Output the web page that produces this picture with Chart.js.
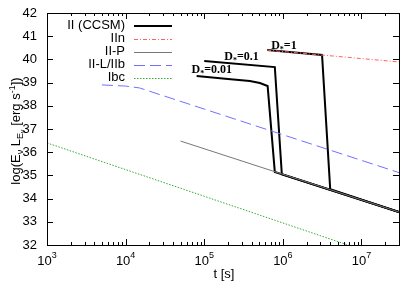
<!DOCTYPE html>
<html>
<head>
<meta charset="utf-8">
<script src="https://cdn.jsdelivr.net/npm/chart.js@4/dist/chart.umd.min.js"></script>
<style>
  body { margin: 0; background: #fff; }
  #wrap { width: 407px; height: 285px; position: relative; }
</style>
</head>
<body>
<div id="wrap"><canvas id="myChart"></canvas></div>
<script>
// values: [t in s, log L]
var ccsm001 = [[8e4, 39.28], [2e5, 39.15], [3.8e5, 39.07], [5.1e5, 38.98], [6.4e5, 38.85], [7.9e5, 35.15], [3e7, 33.42]];
var ccsm01 = [[1e5, 39.93], [7.9e5, 39.67], [9.7e5, 35.05], [3e7, 33.42]];
var ccsm1 = [[6.3e5, 40.4], [3.15e6, 40.19], [4e6, 34.41], [3e7, 33.42]];
var iin = [[6.3e5, 40.4], [3e7, 39.89]];
var iip = [[5e4, 36.48], [3e7, 33.42]];
var iilb = [[5e3, 38.9], [1e4, 38.85], [1.5e4, 38.77], [3e7, 35.12]];
var ibc = [[1e3, 36.4], [1e7, 31.8]];

var xTicks = [1e3, 1e4, 1e5, 1e6, 1e7];
var yTicks = [32, 33, 34, 35, 36, 37, 38, 39, 40, 41, 42];
var dLabels = [['1', 7.1e5, 40.45], ['0.1', 1.8e5, 39.97], ['0.01', 6.9e4, 39.41]];

var legendItems = [
    { label: 'II (CCSM)', color: '#000', width: 2, dash: [] },
    { label: 'IIn', color: '#ff6060', width: 1, dash: [4, 2, 1, 2] },
    { label: 'II-P', color: '#777', width: 1, dash: [] },
    { label: 'II-L/IIb', color: '#7070ff', width: 1, dash: [11, 5] },
    { label: 'Ibc', color: '#33aa33', width: 1, dash: [1.5, 1.5] }
];

function pts(arr) {
    return arr.map(function (p) { return { x: p[0], y: p[1] }; });
}

function ds(arr, color, width, dash) {
    return {
        data: pts(arr),
        borderColor: color,
        borderWidth: width,
        borderDash: dash,
        showLine: true,
        pointRadius: 0,
        tension: 0,
        fill: false
    };
}

var sans = '"Liberation Sans", Arial, sans-serif';

var decorPlugin = {
    id: 'decor',
    afterDraw: function (chart) {
        var ctx = chart.ctx;
        var a = chart.chartArea;
        var xs = chart.scales.x, ys = chart.scales.y;
        ctx.save();
        ctx.strokeStyle = '#000';
        ctx.lineWidth = 1;
        ctx.setLineDash([]);
        ctx.strokeRect(Math.round(a.left) + 0.5, Math.round(a.top) + 0.5, Math.round(a.right - a.left), Math.round(a.bottom - a.top));

        // y ticks, both sides, inward
        ctx.beginPath();
        yTicks.forEach(function (v) {
            var py = Math.round(ys.getPixelForValue(v)) + 0.5;
            ctx.moveTo(a.left, py); ctx.lineTo(a.left + 6, py);
            ctx.moveTo(a.right, py); ctx.lineTo(a.right - 6, py);
        });
        // x ticks, major and minor, top and bottom
        for (var e = 3; e <= 7; e++) {
            for (var m = 1; m <= 9; m++) {
                var v = m * Math.pow(10, e);
                if (v > xs.max) continue;
                var px = Math.round(xs.getPixelForValue(v)) + 0.5;
                var len = m === 1 ? 6 : 3;
                ctx.moveTo(px, a.bottom); ctx.lineTo(px, a.bottom - len);
                ctx.moveTo(px, a.top); ctx.lineTo(px, a.top + len);
            }
        }
        ctx.stroke();

        // y tick labels
        ctx.fillStyle = '#000';
        ctx.font = '13px ' + sans;
        ctx.textAlign = 'right';
        ctx.textBaseline = 'middle';
        yTicks.forEach(function (v) {
            ctx.fillText(String(v), a.left - 10, ys.getPixelForValue(v));
        });

        // x tick labels 10^n
        xTicks.forEach(function (v) {
            var px = xs.getPixelForValue(v);
            var ex = String(Math.round(Math.log10(v)));
            ctx.font = '13px ' + sans;
            var w1 = ctx.measureText('10').width;
            ctx.font = '9px ' + sans;
            var w2 = ctx.measureText(ex).width;
            var x0 = px - (w1 + w2) / 2;
            ctx.textAlign = 'left';
            ctx.textBaseline = 'alphabetic';
            ctx.font = '13px ' + sans;
            ctx.fillText('10', x0, a.bottom + 20);
            ctx.font = '9px ' + sans;
            ctx.fillText(ex, x0 + w1, a.bottom + 13);
        });

        // x title
        ctx.font = '13px ' + sans;
        ctx.textAlign = 'center';
        ctx.fillText('t [s]', (a.left + a.right) / 2 + 1, a.bottom + 33);

        // y title with sub/superscripts
        var parts = [
            ['log(E', 13, 0], ['\u03bd', 9, 3], [' L', 13, 0], ['E', 9, 3], ['\u03bd', 7, 5],
            [' [erg s', 13, 0], ['-1', 9, -5], ['])', 13, 0]
        ];
        var total = 0;
        parts.forEach(function (p) { ctx.font = p[1] + 'px ' + sans; total += ctx.measureText(p[0]).width; });
        ctx.translate(20, 131);
        ctx.rotate(-Math.PI / 2);
        ctx.textAlign = 'left';
        var cx = -total / 2;
        parts.forEach(function (p) {
            ctx.font = p[1] + 'px ' + sans;
            ctx.fillText(p[0], cx, p[2]);
            cx += ctx.measureText(p[0]).width;
        });
        ctx.setTransform(1, 0, 0, 1, 0, 0);

        // legend
        ctx.textAlign = 'right';
        ctx.textBaseline = 'middle';
        legendItems.forEach(function (it, i) {
            var yy = 25.5 + i * 13;
            ctx.font = '13px ' + sans;
            ctx.fillStyle = '#000';
            ctx.fillText(it.label, 125, yy);
            ctx.beginPath();
            ctx.strokeStyle = it.color;
            ctx.lineWidth = it.width;
            ctx.setLineDash(it.dash);
            ctx.moveTo(134, Math.round(yy) + (it.width === 2 ? 0 : 0.5));
            ctx.lineTo(172, Math.round(yy) + (it.width === 2 ? 0 : 0.5));
            ctx.stroke();
        });
        ctx.setLineDash([]);

        // D* labels
        ctx.fillStyle = '#000';
        ctx.textAlign = 'left';
        ctx.textBaseline = 'alphabetic';
        dLabels.forEach(function (d) {
            var px = xs.getPixelForValue(d[1]);
            var py = ys.getPixelForValue(d[2]);
            ctx.font = 'bold 12px "Liberation Serif", "Times New Roman", serif';
            ctx.fillText('D', px, py);
            var w = ctx.measureText('D').width;
            ctx.font = 'bold 8px "Liberation Serif", serif';
            ctx.fillText('*', px + w, py + 3);
            var w2 = ctx.measureText('*').width;
            ctx.font = 'bold 12px "Liberation Serif", "Times New Roman", serif';
            ctx.fillText('=' + d[0], px + w + w2, py);
        });
        ctx.restore();
    }
};

var ctx = document.getElementById('myChart').getContext('2d');
var myChart = new Chart(ctx, {
    type: 'scatter',
    data: {
        datasets: [
            ds(ibc, '#33aa33', 1, [1.5, 1.5]),
            ds(iilb, '#7070ff', 1, [11, 5]),
            ds(iip, '#777', 1, []),
            ds(iin, '#ff6060', 1, [4, 2, 1, 2]),
            ds(ccsm001, '#000', 2, []),
            ds(ccsm01, '#000', 2, []),
            ds(ccsm1, '#000', 2, [])
        ]
    },
    options: {
        responsive: true,
        maintainAspectRatio: false,
        animation: false,
        layout: { padding: { left: 47, right: 8, top: 13, bottom: 40 } },
        plugins: { legend: { display: false }, tooltip: { enabled: false } },
        scales: {
            x: { type: 'logarithmic', min: 1e3, max: 3e7, display: false },
            y: { type: 'linear', min: 32, max: 42, display: false }
        }
    },
    plugins: [decorPlugin]
});
</script>
</body>
</html>
